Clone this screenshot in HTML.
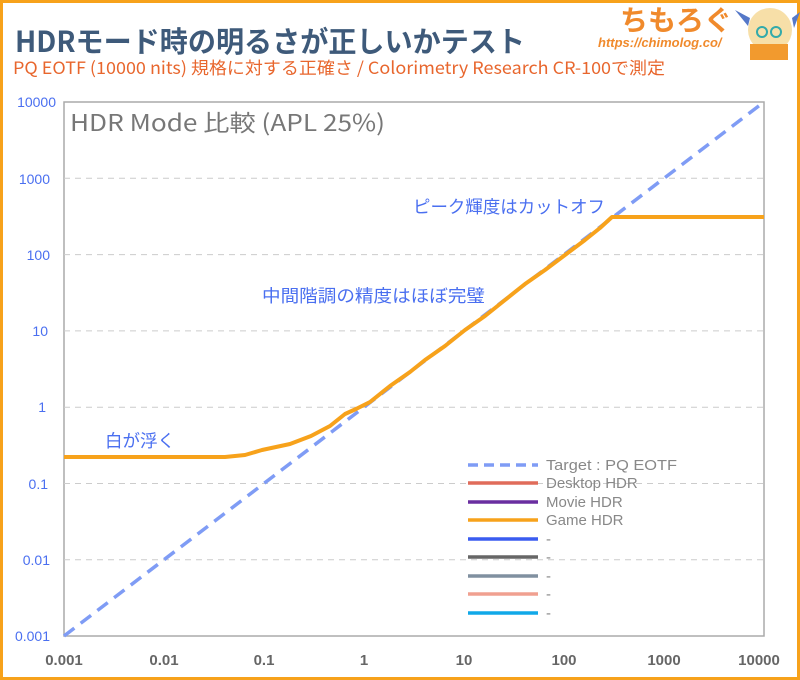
<!DOCTYPE html>
<html><head><meta charset="utf-8"><style>
body{margin:0;width:800px;height:680px;overflow:hidden;background:#fff;font-family:"Liberation Sans","Noto Sans CJK JP",sans-serif}
.frame{position:absolute;left:0;top:0;width:794px;height:674px;border:3px solid #f7a21b}
</style></head><body>
<div class="frame"></div>
<svg width="800" height="680" style="position:absolute;left:0;top:0" font-family="Liberation Sans, Noto Sans CJK JP, sans-serif">
<text x="15" y="52" font-size="29" font-weight="bold" fill="#3e5a7a" font-family="Noto Sans CJK JP, sans-serif" textLength="510" lengthAdjust="spacingAndGlyphs">HDRモード時の明るさが正しいかテスト</text>
<text x="13" y="74" font-size="17" fill="#e8662d" font-family="Noto Sans CJK JP, sans-serif" textLength="652" lengthAdjust="spacingAndGlyphs">PQ EOTF (10000 nits) 規格に対する正確さ / Colorimetry Research CR-100で測定</text>
<text x="620" y="30" font-size="28" font-weight="bold" fill="#f08a2c" font-family="Noto Sans CJK JP, sans-serif">ちもろぐ</text>
<text x="598" y="47" font-size="13" font-style="italic" font-weight="bold" fill="#f08a2c">https://chimolog.co/</text>
<circle cx="770" cy="30" r="22" fill="#f7dfa8"/>
<path d="M750 18 L735 10 L748 26Z M792 18 L800 12 L794 28Z" fill="#5578c8"/>
<circle cx="762" cy="32" r="5" fill="none" stroke="#3aa" stroke-width="2"/><circle cx="776" cy="32" r="5" fill="none" stroke="#3aa" stroke-width="2"/>
<rect x="750" y="44" width="38" height="16" fill="#f29a2e"/>
<rect x="64" y="102" width="700" height="534" fill="none" stroke="#aaa" stroke-width="1.5"/>
<g stroke="#ccc" stroke-dasharray="6,5" stroke-width="1">
<line x1="64" y1="178.3" x2="764" y2="178.3"/><line x1="64" y1="254.6" x2="764" y2="254.6"/><line x1="64" y1="330.9" x2="764" y2="330.9"/><line x1="64" y1="407.2" x2="764" y2="407.2"/><line x1="64" y1="483.5" x2="764" y2="483.5"/><line x1="64" y1="559.8" x2="764" y2="559.8"/>
</g>
<g fill="#4a6ff0" font-size="14" text-anchor="end">
<text x="56" y="107">10000</text><text x="50" y="184">1000</text><text x="50" y="260">100</text><text x="48" y="336">10</text><text x="46" y="412">1</text><text x="48" y="489">0.1</text><text x="50" y="565">0.01</text><text x="50" y="641">0.001</text>
</g>
<g fill="#666" font-size="15" font-weight="bold" text-anchor="middle">
<text x="64" y="665">0.001</text><text x="164" y="665">0.01</text><text x="264" y="665">0.1</text><text x="364" y="665">1</text><text x="464" y="665">10</text><text x="564" y="665">100</text><text x="664" y="665">1000</text><text x="759" y="665">10000</text>
</g>
<text x="70" y="131" font-size="23" fill="#777" font-family="Noto Sans CJK JP, sans-serif" textLength="315" lengthAdjust="spacingAndGlyphs">HDR Mode 比較 (APL 25%)</text>
<line x1="64" y1="636" x2="764" y2="102" stroke="#7f9cf5" stroke-width="3.5" stroke-dasharray="13,8"/>
<polyline fill="none" stroke="#f7a21b" stroke-width="4" stroke-linejoin="round" points="64,457 225,457 245,455 262,450 290,444 311,436 330,426 345,414 356,409 370,402 390,386 410,372 425,360 445,346 465,330 485,316 505,300 525,284 545,270 565,255 585,240 600,228 612,217 764,217"/>
<g fill="#4a6ff0" font-size="17.5" font-family="Noto Sans CJK JP, sans-serif">
<text x="105" y="447">白が浮く</text>
<text x="262" y="302" textLength="223" lengthAdjust="spacingAndGlyphs">中間階調の精度はほぼ完璧</text>
<text x="413" y="213" textLength="192" lengthAdjust="spacingAndGlyphs">ピーク輝度はカットオフ</text>
</g>
<g stroke-width="3.5">
<line x1="468" y1="465" x2="538" y2="465" stroke="#7f9cf5" stroke-dasharray="10,6"/>
<line x1="468" y1="483" x2="538" y2="483" stroke="#e06c5a"/>
<line x1="468" y1="502" x2="538" y2="502" stroke="#6a2ea0"/>
<line x1="468" y1="520" x2="538" y2="520" stroke="#f7a21b"/>
<line x1="468" y1="539" x2="538" y2="539" stroke="#3a5cf0"/>
<line x1="468" y1="557" x2="538" y2="557" stroke="#666"/>
<line x1="468" y1="576" x2="538" y2="576" stroke="#8090a0"/>
<line x1="468" y1="594" x2="538" y2="594" stroke="#f0a090"/>
<line x1="468" y1="613" x2="538" y2="613" stroke="#10a8e8"/>
</g>
<g fill="#888" font-size="15">
<text x="546" y="470" textLength="131" lengthAdjust="spacingAndGlyphs">Target : PQ EOTF</text><text x="546" y="488">Desktop HDR</text><text x="546" y="507">Movie HDR</text><text x="546" y="525">Game HDR</text>
<text x="546" y="544">-</text><text x="546" y="562">-</text><text x="546" y="581">-</text><text x="546" y="599">-</text><text x="546" y="618">-</text>
</g>
</svg>
</body></html>
